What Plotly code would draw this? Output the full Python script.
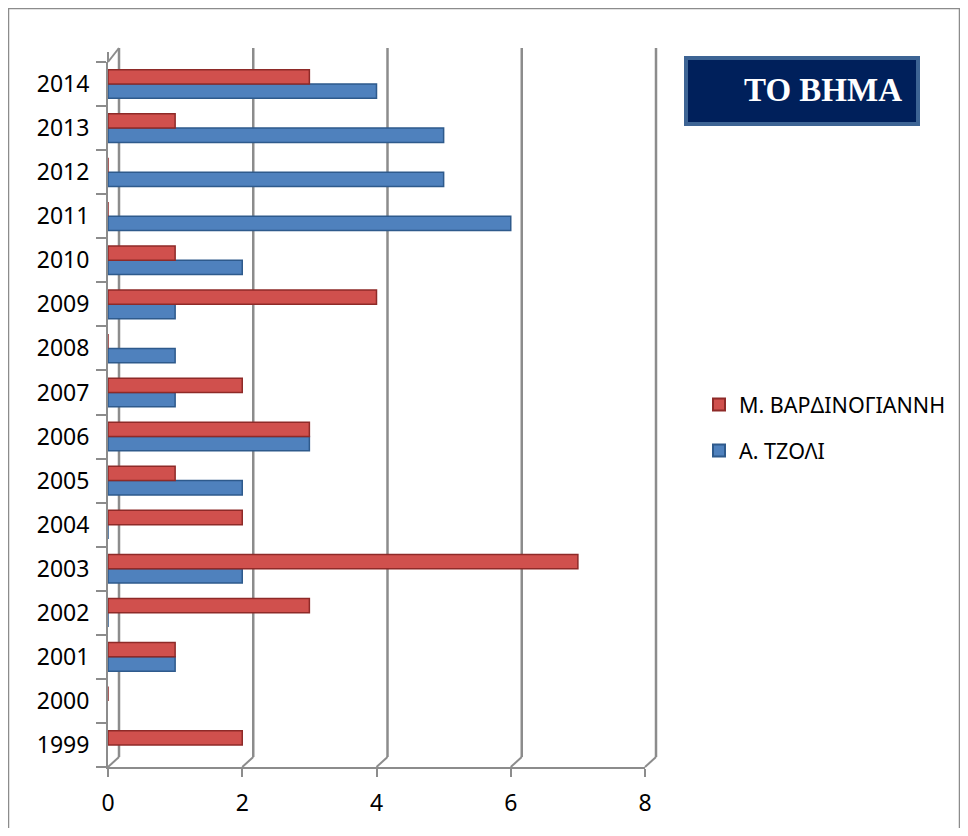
import plotly.graph_objects as go

# data
years = [str(y) for y in range(1999, 2015)]
tzoli = [None, None, 1, 0, 2, 0, 2, 3, 1, 1, 1, 2, 6, 5, 5, 4]
vardinogianni = [2, 0, 1, 3, 7, 2, 1, 3, 2, 0, 4, 1, 0, 0, 1, 3]
x_ticks = [0, 2, 4, 6, 8]
x_max = 8

OFF = 8                           # page body margin
W, H = 968 - 2 * OFF, 836 - 2 * OFF
L, R, T, B = 108, 645, 62, 767    # plot area in screen pixels
GRID = '#8C8C8C'


def px(x):
    return (x - L) / (R - L)


def py(y):
    return (B - y) / (B - T)


fig = go.Figure()

fig.add_trace(go.Bar(
    y=years, x=tzoli, orientation='h', name='Α. ΤΖΟΛΙ',
    legendgroup='b', legendrank=2,
    marker=dict(color='#4F81BD', line=dict(color='#2E5A8C', width=1.5)),
))
fig.add_trace(go.Bar(
    y=years, x=vardinogianni, orientation='h', name='Μ. ΒΑΡΔΙΝΟΓΙΑΝΝΗ',
    legendgroup='a', legendrank=1,
    marker=dict(color='#D0504D', line=dict(color='#8E2A28', width=1.5)),
))

fig.update_layout(
    width=W, height=H,
    margin=dict(l=L - OFF, r=W + OFF - R, t=T - OFF, b=H + OFF - B, pad=0,
                autoexpand=False),
    paper_bgcolor='white', plot_bgcolor='rgba(0,0,0,0)',
    barmode='group', bargap=0.35, bargroupgap=0.0,
    font=dict(family='Noto Sans, Liberation Sans, sans-serif', size=23, color='black'),
    showlegend=True,
    legend=dict(
        x=px(699), y=py(384), xanchor='left', yanchor='top',
        traceorder='grouped', font=dict(size=21.5),
        bgcolor='rgba(0,0,0,0)',
        itemsizing='constant', tracegroupgap=15, itemwidth=30,
    ),
)

fig.update_xaxes(
    range=[0, x_max], tickvals=x_ticks, ticktext=[str(v) for v in x_ticks],
    showgrid=False,
    showline=True, linecolor=GRID, linewidth=2,
    ticks='outside', ticklen=8, tickcolor=GRID, tickwidth=2,
    ticklabelstandoff=6, zeroline=False,
)
fig.update_yaxes(
    type='category', categoryorder='array', categoryarray=years,
    showgrid=False, showline=True, linecolor=GRID, linewidth=2,
    ticks='outside', ticklen=10, tickcolor=GRID, tickwidth=2,
    tickson='boundaries', ticklabelstandoff=12,
)

# 3D back-wall grid lines, shifted up/right from each x tick
for v in x_ticks:
    xa = v / x_max
    fig.add_shape(type='line', xref='paper', xsizemode='pixel', xanchor=xa,
                  x0=11, x1=11, yref='paper', y0=py(757), y1=py(48),
                  line=dict(color=GRID, width=2.5), layer='below')
    fig.add_shape(type='line', xref='paper', xsizemode='pixel', xanchor=xa,
                  x0=0, x1=11, yref='paper', y0=0, y1=py(757),
                  line=dict(color=GRID, width=2), layer='below')
# top of the depth on the value axis wall
fig.add_shape(type='line', xref='paper', xsizemode='pixel', xanchor=0,
              x0=0, x1=11, yref='paper', y0=1, y1=py(48),
              line=dict(color=GRID, width=2), layer='below')
fig.add_shape(type='line', xref='paper', xsizemode='pixel', xanchor=0,
              x0=0, x1=0, yref='paper', y0=1, y1=py(52),
              line=dict(color=GRID, width=2), layer='below')

# outer chart border
fig.add_shape(type='rect', xref='paper', yref='paper',
              x0=px(8.5), x1=px(959.5), y0=py(8.5), y1=py(829.5),
              line=dict(color=GRID, width=1.5), fillcolor='rgba(0,0,0,0)',
              layer='below')

# newspaper label box
fig.add_shape(type='rect', xref='paper', yref='paper',
              x0=px(686), x1=px(918), y0=py(58), y1=py(124),
              line=dict(color='#3D6494', width=4), fillcolor='#00205B')
fig.add_annotation(
    x=px(823), y=py(90), xref='paper', yref='paper', showarrow=False,
    xanchor='center', yanchor='middle',
    text='ΤΟ ΒΗΜΑ',
    font=dict(family='Liberation Serif, serif', size=33, color='white', weight='bold'),
)

fig.write_html("out.html")
